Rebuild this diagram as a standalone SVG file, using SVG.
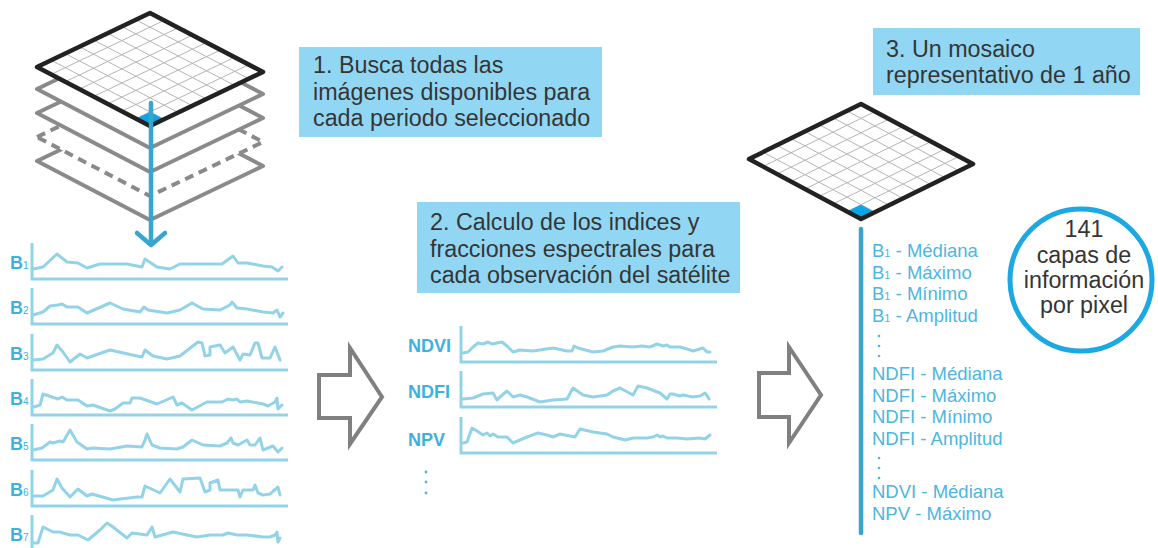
<svg xmlns="http://www.w3.org/2000/svg" width="1158" height="548" viewBox="0 0 1158 548">
<style>
.series{fill:none;stroke:#93d3e7;stroke-width:3;stroke-linejoin:round;stroke-linecap:round}
.axis{fill:none;stroke:#93d3e7;stroke-width:3}
.blab{font-family:"Liberation Sans",Arial,sans-serif;font-weight:bold;font-size:18px;fill:#3fb1de}
.sub{font-weight:normal;font-size:10px}
.box{fill:#91d7f4}
.btxt{font-family:"Liberation Sans",Arial,sans-serif;font-size:23.3px;fill:#353535}
.list{font-family:"Liberation Sans",Arial,sans-serif;font-size:18.5px;fill:#4db6e0}
.ls{font-size:11px}
.grid{fill:none;stroke:#b5b5b5;stroke-width:1;vector-effect:non-scaling-stroke}
.frame{fill:none;stroke:#222;stroke-width:4.5;stroke-linejoin:round;vector-effect:non-scaling-stroke}
.layer{fill:#fff;stroke:#8a8a8a;stroke-width:4;stroke-linejoin:round}
.cell{fill:#0aa6e6;stroke:none}
.bigarrow{fill:#fff;stroke:#808080;stroke-width:4;stroke-linejoin:miter}
.blue{fill:none;stroke:#36a6cf;stroke-width:4.5;stroke-linecap:round;stroke-linejoin:round}
.dot{fill:#4db6e0}
</style>
<defs>
<path id="plane" d="M37,67 L150,13 L263,72 L150,126 Z"/>
</defs>

<!-- Step 1: image stack -->
<g id="image-stack">
  <use href="#plane" class="layer" transform="translate(0,94)"/>
  <use href="#plane" class="layer" transform="translate(0,70)" stroke-dasharray="9 6"/>
  <use href="#plane" class="layer" transform="translate(0,46)"/>
  <use href="#plane" class="layer" transform="translate(0,22)"/>
  <g transform="matrix(14.125,-6.75,14.125,7.375,37,67)">
    <path d="M0,0H8V8H0Z" fill="#fff"/>
    <path class="grid" d="M1,0V8M2,0V8M3,0V8M4,0V8M5,0V8M6,0V8M7,0V8M0,1H8M0,2H8M0,3H8M0,4H8M0,5H8M0,6H8M0,7H8"/>
    <path d="M0,7H1V8H0Z" class="cell"/>
    <path class="frame" d="M0,0H8V8H0Z"/>
  </g>
</g>

<g id="box1">
  <rect class="box" x="299" y="47" width="303" height="90"/>
  <text class="btxt" x="313" y="73">1. Busca todas las</text>
  <text class="btxt" x="313" y="100">imágenes disponibles para</text>
  <text class="btxt" x="313" y="126">cada periodo seleccionado</text>
</g>

<!-- band charts -->
<g id="chart-b1" transform="translate(0,279)">
  <text class="blab" x="10" y="-10">B<tspan class="sub">1</tspan></text>
  <path class="axis" d="M32,-36V0H288"/>
  <polyline class="series" points="33,-10 43,-12 57,-25 67,-17 78,-16 87,-11 100,-15 127,-15 142,-12 145,-20 157,-12 170,-10 180,-15 210,-15 222,-15 233,-23 238,-16 247,-16 263,-13 272,-12 278,-8 282,-12"/>
</g>
<g id="chart-b2" transform="translate(0,324)">
  <text class="blab" x="10" y="-10">B<tspan class="sub">2</tspan></text>
  <path class="axis" d="M32,-36V0H288"/>
  <polyline class="series" points="33,-9 43,-12 50,-18 58,-19 62,-20 67,-17 78,-17 87,-11 110,-21 123,-15 140,-12 144,-17 148,-14 167,-11 180,-14 192,-21 203,-15 220,-14 230,-19 232,-22 237,-16 247,-15 263,-12 273,-11 277,-14 280,-7 283,-11"/>
</g>
<g id="chart-b3" transform="translate(0,370)">
  <text class="blab" x="10" y="-10">B<tspan class="sub">3</tspan></text>
  <path class="axis" d="M32,-36V0H288"/>
  <polyline class="series" points="33,-10 43,-11 53,-17 57,-25 63,-18 70,-8 80,-16 87,-12 110,-20 137,-14 142,-13 145,-20 153,-14 167,-11 180,-14 198,-28 202,-27 205,-14 210,-15 210,-23 220,-25 225,-17 233,-23 240,-10 243,-16 250,-15 255,-27 258,-27 262,-12 270,-12 275,-23 280,-10"/>
</g>
<g id="chart-b4" transform="translate(0,415)">
  <text class="blab" x="10" y="-10">B<tspan class="sub">4</tspan></text>
  <path class="axis" d="M32,-36V0H288"/>
  <polyline class="series" points="34,-8 40,-10 43,-21 52,-18 58,-16 62,-18 67,-15 78,-15 87,-9 93,-10 110,-4 115,-6 123,-12 130,-12 132,-17 140,-17 157,-11 173,-18 177,-10 182,-12 192,-5 207,-13 222,-13 228,-16 233,-15 237,-16 240,-13 247,-14 263,-11 268,-9 275,-13 277,-17 278,-6 282,-10"/>
</g>
<g id="chart-b5" transform="translate(0,460)">
  <text class="blab" x="10" y="-10">B<tspan class="sub">5</tspan></text>
  <path class="axis" d="M32,-36V0H288"/>
  <polyline class="series" points="33,-10 42,-12 50,-18 53,-17 60,-19 63,-18 70,-30 77,-18 87,-11 93,-12 110,-11 127,-14 142,-13 145,-20 147,-26 152,-15 160,-12 177,-11 183,-13 192,-20 203,-15 220,-14 227,-17 231,-22 233,-17 238,-15 247,-20 250,-15 255,-15 260,-22 263,-10 273,-14 278,-8 282,-12"/>
</g>
<g id="chart-b6" transform="translate(0,506)">
  <text class="blab" x="10" y="-10">B<tspan class="sub">6</tspan></text>
  <path class="axis" d="M32,-36V0H288"/>
  <polyline class="series" points="33,-10 43,-10 53,-16 57,-27 62,-18 70,-9 78,-17 87,-10 92,-12 113,-6 137,-9 142,-9 145,-20 160,-13 170,-27 180,-14 183,-27 200,-28 205,-14 210,-16 210,-23 218,-26 220,-16 238,-16 240,-9 243,-16 253,-16 255,-21 258,-13 263,-11 270,-12 278,-19 280,-11"/>
</g>
<g id="chart-b7" transform="translate(0,551)">
  <text class="blab" x="10" y="-10">B<tspan class="sub">7</tspan></text>
  <path class="axis" d="M32,-36V0H288"/>
  <polyline class="series" points="33,-8 38,-8 43,-24 53,-19 60,-19 63,-18 70,-16 78,-16 88,-11 100,-21 107,-28 113,-24 127,-13 132,-18 147,-16 152,-24 155,-14 173,-19 187,-16 197,-14 210,-16 223,-16 228,-18 237,-16 247,-16 263,-14 270,-14 275,-16 277,-19 278,-9 280,-13"/>
</g>

<!-- Step 2 -->
<g id="box2">
  <rect class="box" x="417" y="202" width="323" height="91"/>
  <text class="btxt" x="430" y="230">2. Calculo de los indices y</text>
  <text class="btxt" x="430" y="257">fracciones espectrales para</text>
  <text class="btxt" x="430" y="283">cada observación del satélite</text>
</g>
<g id="chart-ndvi" transform="translate(0,362)">
  <text class="blab" x="408" y="-10">NDVI</text>
  <path class="axis" d="M461,-36V0H717"/>
  <polyline class="series" points="463,-9 468,-10 473,-15 478,-19 483,-18 488,-20 492,-18 497,-19 502,-20 507,-16 513,-10 520,-12 533,-11 553,-14 567,-11 572,-11 574,-16 578,-14 593,-10 603,-11 613,-15 620,-16 633,-15 642,-16 650,-15 657,-18 663,-16 667,-17 670,-15 680,-15 687,-13 693,-11 703,-14 707,-10 710,-10"/>
</g>
<g id="chart-ndfi" transform="translate(0,407)">
  <text class="blab" x="408" y="-9">NDFI</text>
  <path class="axis" d="M461,-36V0H717"/>
  <polyline class="series" points="463,-8 473,-9 483,-13 493,-14 497,-7 500,-10 507,-16 513,-10 520,-12 527,-10 540,-5 553,-7 567,-8 573,-19 583,-12 593,-10 607,-12 613,-16 620,-19 633,-12 638,-21 647,-19 660,-14 667,-8 670,-13 673,-13 680,-11 683,-12 693,-10 700,-11 705,-14 708,-10 709,-8"/>
</g>
<g id="chart-npv" transform="translate(0,453)">
  <text class="blab" x="408" y="-7">NPV</text>
  <path class="axis" d="M461,-36V0H717"/>
  <polyline class="series" points="463,-10 467,-11 472,-25 477,-22 483,-18 487,-20 490,-17 493,-19 498,-16 507,-16 513,-10 520,-13 527,-16 538,-20 547,-18 553,-16 560,-19 570,-17 575,-16 580,-24 593,-21 607,-19 613,-16 625,-13 633,-15 647,-15 653,-16 657,-18 660,-16 663,-17 667,-15 677,-15 687,-14 700,-15 705,-14 710,-18"/>
</g>
<g id="more-indices">
  <circle class="dot" cx="426" cy="472" r="1.4"/>
  <circle class="dot" cx="426" cy="482" r="1.4"/>
  <circle class="dot" cx="426" cy="493" r="1.4"/>
</g>

<!-- Step 3 -->
<g id="box3">
  <rect class="box" x="873" y="28" width="267" height="67"/>
  <text class="btxt" x="886" y="57">3. Un mosaico</text>
  <text class="btxt" x="886" y="83">representativo de 1 año</text>
</g>
<g id="mosaic">
  <g transform="matrix(14,-6.875,14,7.5,749,159)">
    <path d="M0,0H8V8H0Z" fill="#fff"/>
    <path class="grid" d="M1,0V8M2,0V8M3,0V8M4,0V8M5,0V8M6,0V8M7,0V8M0,1H8M0,2H8M0,3H8M0,4H8M0,5H8M0,6H8M0,7H8"/>
    <path d="M0,7H1V8H0Z" class="cell"/>
    <path class="frame" d="M0,0H8V8H0Z"/>
  </g>
</g>
<g id="layer-list">
  <text class="list" x="872" y="257">B<tspan class="ls">1</tspan> - Médiana</text>
  <text class="list" x="872" y="279">B<tspan class="ls">1</tspan> - Máximo</text>
  <text class="list" x="872" y="300">B<tspan class="ls">1</tspan> - Mínimo</text>
  <text class="list" x="872" y="322">B<tspan class="ls">1</tspan> - Amplitud</text>
  <circle class="dot" cx="879" cy="336" r="1.3"/>
  <circle class="dot" cx="879" cy="346" r="1.3"/>
  <circle class="dot" cx="879" cy="356" r="1.3"/>
  <text class="list" x="872" y="380">NDFI - Médiana</text>
  <text class="list" x="872" y="402">NDFI - Máximo</text>
  <text class="list" x="872" y="423">NDFI - Mínimo</text>
  <text class="list" x="872" y="445">NDFI - Amplitud</text>
  <circle class="dot" cx="879" cy="458" r="1.3"/>
  <circle class="dot" cx="879" cy="468" r="1.3"/>
  <circle class="dot" cx="879" cy="478" r="1.3"/>
  <text class="list" x="872" y="498">NDVI - Médiana</text>
  <text class="list" x="872" y="520">NPV - Máximo</text>
</g>
<g id="layer-count">
  <circle cx="1081" cy="280" r="71" fill="#fff" stroke="#1ca8e3" stroke-width="5"/>
  <text class="btxt" x="1084" y="237" text-anchor="middle">141</text>
  <text class="btxt" x="1084" y="263" text-anchor="middle">capas de</text>
  <text class="btxt" x="1084" y="288" text-anchor="middle">información</text>
  <text class="btxt" x="1084" y="313" text-anchor="middle">por pixel</text>
</g>

<!-- connectors -->
<g id="connectors">
  <path class="blue" d="M151,103V241"/>
  <polyline class="blue" points="137,233 151,245 165,233"/>
  <path class="bigarrow" d="M319,375H350V348L382,397L350,444V418H319Z"/>
  <path class="bigarrow" d="M759,373H789V347L821,395L789,443V417H759Z"/>
  <path class="blue" d="M861,229V533"/>
</g>
</svg>
